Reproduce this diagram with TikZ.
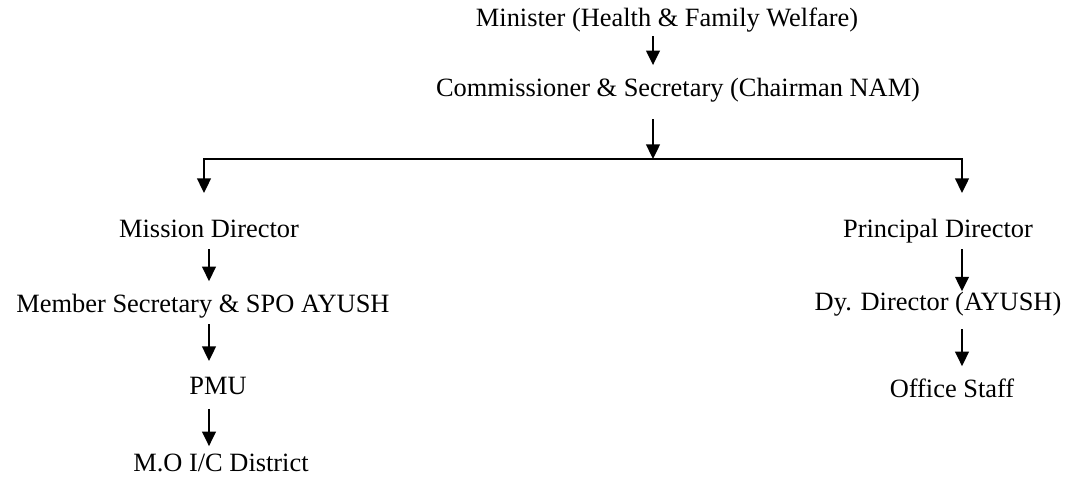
\documentclass[tikz,border=0pt]{standalone}
\usepackage{fontspec}
\setmainfont{Liberation Serif}
\usetikzlibrary{arrows.meta}
\begin{document}
\begin{tikzpicture}[x=0.4545pt, y=-0.4545pt, line width=0.9pt, every node/.style={font=\fontsize{12}{14}\selectfont, inner sep=0pt, outer sep=0pt, anchor=base, text height=0.7em, text depth=0.22em}, arr/.style={-{Triangle[width=6.2pt, length=6.6pt]}}]
        \useasboundingbox (0, 0) rectangle (1069, 486);

        \node (minister) at (667, 27) {Minister (Health \& Family Welfare)};
        \node (comm) at (678, 97) {Commissioner \& Secretary (Chairman NAM)};

        \node (mission) at (209, 237) {Mission Director};
        \node (member) at (203, 312) {Member Secretary \& SPO AYUSH};
        \node (pmu) at (218, 394) {PMU};
        \node (moic) at (221, 471) {M.O I/C District};

        \node (principal) at (938, 237) {Principal Director};
        \node (dydir) at (938, 310) {Dy. Director (AYUSH)};
        \node (office) at (952, 397) {Office Staff};

        \coordinate (barL) at (204, 159);
        \coordinate (barM) at (653, 159);
        \coordinate (barR) at (962, 159);
        \coordinate (colL) at (209, 0);

        \draw[arr, shorten <=1.9pt, shorten >=7.5pt] (minister.south -| barM) -- (comm.north -| barM);
        \draw[arr, shorten <=7.8pt] (comm.south -| barM) -- (barM);
        \draw[line cap=rect] (barL) -- (barR);
        \draw[arr, shorten >=13pt] (barL) -- (mission.north -| barL);
        \draw[arr, shorten >=13pt] (barR) -- (principal.north -| barR);

        \draw[arr, shorten <=3.3pt, shorten >=7pt] (mission.south -| colL) -- (member.north -| colL);
        \draw[arr, shorten <=3.3pt, shorten >=8pt] (member.south -| colL) -- (pmu.north -| colL);
        \draw[arr, shorten <=4.6pt, shorten >=4.3pt] (pmu.south -| colL) -- (moic.north -| colL);

        \draw[arr, shorten <=3.3pt, shorten >=1.5pt] (principal.south -| barR) -- (dydir.north -| barR);
        \draw[arr, shorten <=6.5pt, shorten >=7pt] (dydir.south -| barR) -- (office.north -| barR);
    \end{tikzpicture}
\end{document}
